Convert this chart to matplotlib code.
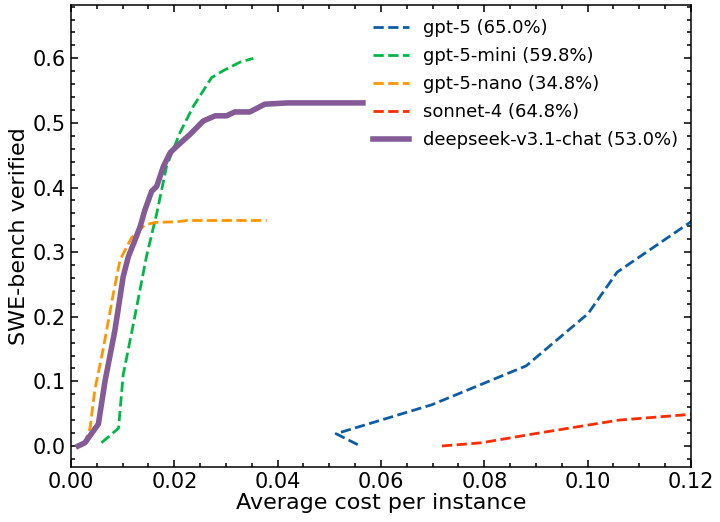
import matplotlib
matplotlib.use("Agg")
import matplotlib.pyplot as plt
from matplotlib.ticker import MultipleLocator, FormatStrFormatter

# ---- data ----
gpt5_cost = [0.0555, 0.0513, 0.0699, 0.0881, 0.1001, 0.1057, 0.1198, 0.1300]
gpt5_score = [0.002, 0.019, 0.064, 0.124, 0.205, 0.269, 0.346, 0.390]

mini_cost = [0.0059, 0.0092, 0.0101, 0.0121, 0.0146, 0.0166, 0.0185, 0.0211,
             0.0237, 0.0272, 0.0295, 0.0327, 0.0353]
mini_score = [0.005, 0.0275, 0.110, 0.190, 0.293, 0.360, 0.433, 0.485,
              0.526, 0.570, 0.581, 0.594, 0.600]

nano_cost = [0.0025, 0.0037, 0.0046, 0.0063, 0.0082, 0.0095, 0.0117, 0.0143,
             0.0163, 0.0205, 0.0224, 0.0379]
nano_score = [0.002, 0.028, 0.086, 0.153, 0.236, 0.288, 0.322, 0.342,
              0.346, 0.347, 0.349, 0.349]

sonnet_cost = [0.0718, 0.0795, 0.0890, 0.1060, 0.1200, 0.1300]
sonnet_score = [0.000, 0.005, 0.018, 0.040, 0.049, 0.055]

ds_cost = [0.0014, 0.0027, 0.0053, 0.0066, 0.0085, 0.0101, 0.0111, 0.0124,
           0.0134, 0.0143, 0.0156, 0.0166, 0.0179, 0.0192, 0.0205, 0.0230,
           0.0256, 0.0279, 0.0301, 0.0317, 0.0346, 0.0363, 0.0375, 0.0420,
           0.0565]
ds_score = [0.000, 0.005, 0.034, 0.101, 0.179, 0.262, 0.293, 0.319,
            0.340, 0.365, 0.394, 0.402, 0.433, 0.454, 0.464, 0.482,
            0.503, 0.511, 0.511, 0.517, 0.517, 0.524, 0.529, 0.531,
            0.531]

labels = ["gpt-5 (65.0%)", "gpt-5-mini (59.8%)", "gpt-5-nano (34.8%)",
          "sonnet-4 (64.8%)", "deepseek-v3.1-chat (53.0%)"]
colors = ["#0C5DA5", "#00B945", "#FF9500", "#FF2C00", "#845B97"]

# ---- figure ----
fig = plt.figure(figsize=(7.2, 5.22), dpi=100)
ax = fig.add_axes([0.0986, 0.1054, 0.8611, 0.8850])

ax.plot(gpt5_cost, gpt5_score, "--", color=colors[0], lw=2, label=labels[0])
ax.plot(mini_cost, mini_score, "--", color=colors[1], lw=2, label=labels[1])
ax.plot(nano_cost, nano_score, "--", color=colors[2], lw=2, label=labels[2])
ax.plot(sonnet_cost, sonnet_score, "--", color=colors[3], lw=2, label=labels[3])
ax.plot(ds_cost, ds_score, "-", color=colors[4], lw=4, label=labels[4])

ax.set_xlim(0, 0.12)
ax.set_ylim(-0.0325, 0.6825)
ax.xaxis.set_major_locator(MultipleLocator(0.02))
ax.xaxis.set_minor_locator(MultipleLocator(0.005))
ax.yaxis.set_major_locator(MultipleLocator(0.1))
ax.yaxis.set_minor_locator(MultipleLocator(0.02))
ax.xaxis.set_major_formatter(FormatStrFormatter("%.2f"))
ax.yaxis.set_major_formatter(FormatStrFormatter("%.1f"))

ax.tick_params(which="both", direction="in", top=True, right=True, width=1.1)
ax.tick_params(which="major", length=5, labelsize=15)
ax.tick_params(which="minor", length=3)
for s in ax.spines.values():
    s.set_linewidth(1.1)

ax.set_xlabel("Average cost per instance", fontsize=16, labelpad=1)
ax.set_ylabel("SWE-bench verified", fontsize=16, labelpad=3)

ax.legend(loc="upper right", fontsize=13, frameon=False, borderaxespad=0.3,
          labelspacing=0.55, bbox_to_anchor=(1.0, 0.996))

fig.savefig("out.png", dpi=100)
